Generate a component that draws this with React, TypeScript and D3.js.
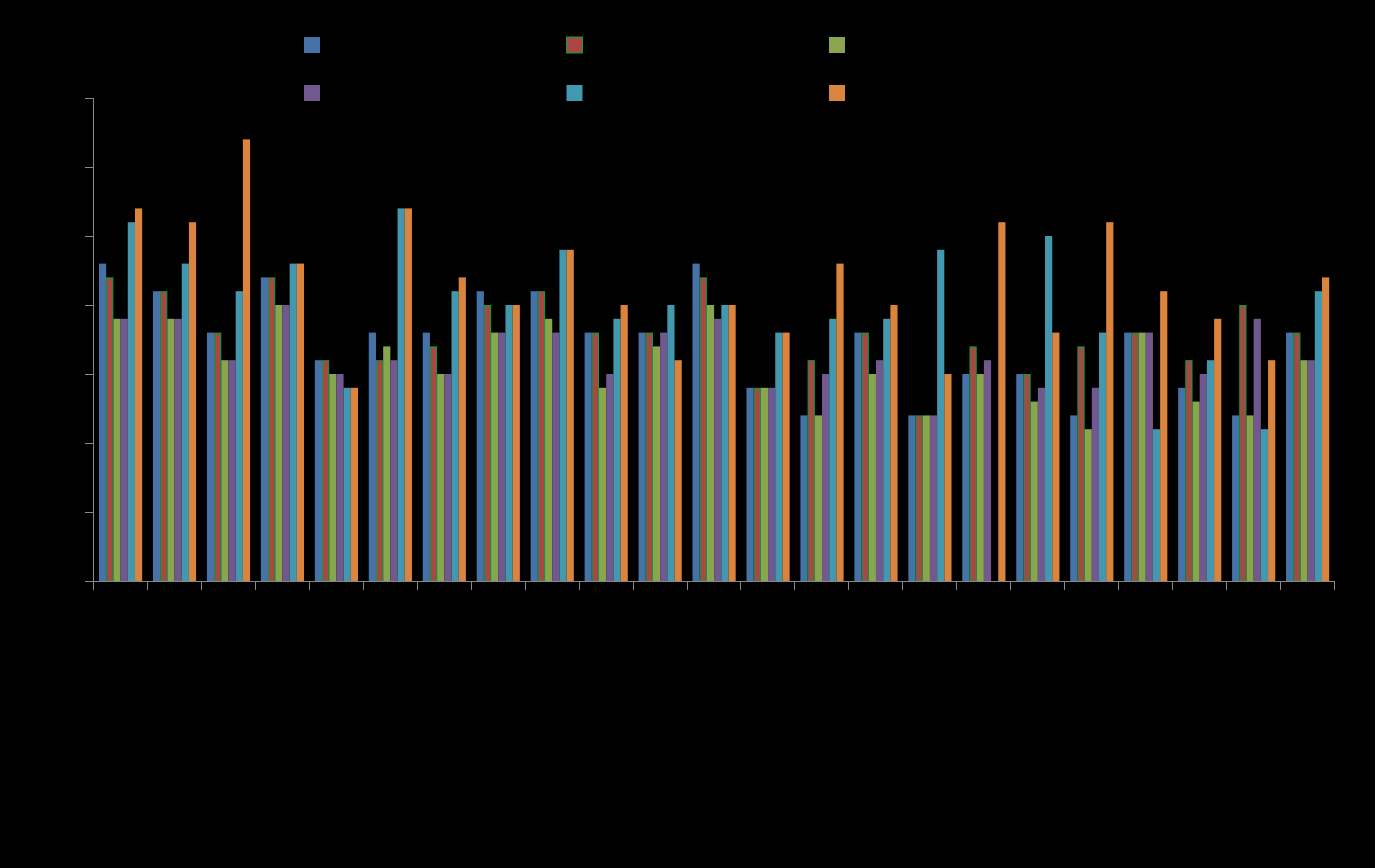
import React from "react";
import * as d3 from "d3";

const categories = ["1","2","3","4","5","6","7","8","9","10","11","12","13","14","15","16","17","18","19","20","21","22","23"];
const seriesNames = ["Series 1","Series 2","Series 3","Series 4","Series 5","Series 6"];
const seriesColors = ["#4572A7","#AA4643","#89A54E","#71588F","#4198AF","#DB843D"];

const s1 = [23,21,18,22,16,18,18,21,21,18,18,23,14,12,18,12,15,15,12,18,14,12,18];
const s2 = [22,21,18,22,16,16,17,20,21,18,18,22,14,16,18,12,17,15,17,18,16,20,18];
const s3 = [19,19,16,20,15,17,15,18,19,14,17,20,14,12,15,12,15,13,11,18,13,12,16];
const s4 = [19,19,16,20,15,16,15,18,18,15,18,19,14,15,16,12,16,14,14,18,15,19,16];
const s5: (number|null)[] = [26,23,21,23,14,27,21,20,24,19,20,20,18,19,19,24,null,25,18,11,16,11,21];
const s6 = [27,26,32,23,14,27,22,20,24,20,16,20,18,23,20,15,26,18,26,21,19,16,22];
const seriesValues = [s1,s2,s3,s4,s5,s6];
const yTicks = [0,5,10,15,20,25,30,35];

const W = 1375, H = 868;
const left = 93, right = 1334, top = 98, bottom = 581;

export default function App() {
  const x = d3.scaleBand<string>().domain(categories).range([left + 0.6, right + 0.6]).paddingInner(0.2).paddingOuter(0.1);
  const xs = d3.scaleBand<string>().domain(seriesNames).range([0, x.bandwidth()]).padding(0);
  const y = d3.scaleLinear().domain([0, 35]).range([bottom, top]);
  const step = x.step();
  const boundaries = d3.range(categories.length + 1).map(i => left + i * step);
  const axisColor = "#888";

  return (
    <svg width={W} height={H} style={{ position: "absolute", left: 0, top: 0, background: "#000" }} fontFamily="Liberation Sans, Arial, sans-serif">
      <rect x={0} y={0} width={W} height={H} fill="#000" />
      {/* legend */}
      {seriesNames.map((n, i) => {
        const col = i % 3, row = Math.floor(i / 3);
        const lx = 304 + col * 262.5, ly = 37 + row * 48;
        return (
          <g key={n}>
            <rect x={lx} y={ly} width={16} height={16} fill={seriesColors[i]}
              stroke={i === 1 ? "#00A540" : "none"} strokeWidth={1} />
            <text x={lx + 24} y={ly + 12} fontSize={13} fill="#000">{n}</text>
          </g>
        );
      })}
      {/* bars */}
      {seriesValues.map((vals, si) => (
        <g key={si}>
          {vals.map((v, ci) => v == null ? null : (
            <rect key={ci}
              x={(x(categories[ci]) ?? 0) + (xs(seriesNames[si]) ?? 0) + (si === 1 ? 0.5 : 0)}
              y={y(v) + (si === 1 ? 0.5 : 0)}
              width={xs.bandwidth() - (si === 1 ? 1 : 0)}
              height={y(0) - y(v) - (si === 1 ? 0.5 : 0)}
              fill={seriesColors[si]}
              stroke={si === 1 ? "#00A540" : "none"}
              strokeWidth={1} />
          ))}
        </g>
      ))}
      {/* y axis */}
      <line x1={left + 0.5} x2={left + 0.5} y1={top} y2={bottom} stroke={axisColor} />
      {yTicks.map(t => (
        <g key={t}>
          <line x1={left - 8} x2={left} y1={Math.round(y(t)) + 0.5} y2={Math.round(y(t)) + 0.5} stroke={axisColor} />
          <text x={left - 12} y={y(t) + 4} textAnchor="end" fontSize={12} fill="#000">{t}</text>
        </g>
      ))}
      {/* x axis */}
      <line x1={left} x2={right + 1} y1={bottom + 0.5} y2={bottom + 0.5} stroke={axisColor} />
      {boundaries.map((b, i) => (
        <line key={i} x1={Math.round(b) + 0.5} x2={Math.round(b) + 0.5} y1={bottom} y2={bottom + 9} stroke={axisColor} />
      ))}
      {categories.map(c => (
        <text key={c} x={(x(c) ?? 0) + x.bandwidth() / 2} y={bottom + 24} textAnchor="middle" fontSize={12} fill="#000">{c}</text>
      ))}
    </svg>
  );
}
